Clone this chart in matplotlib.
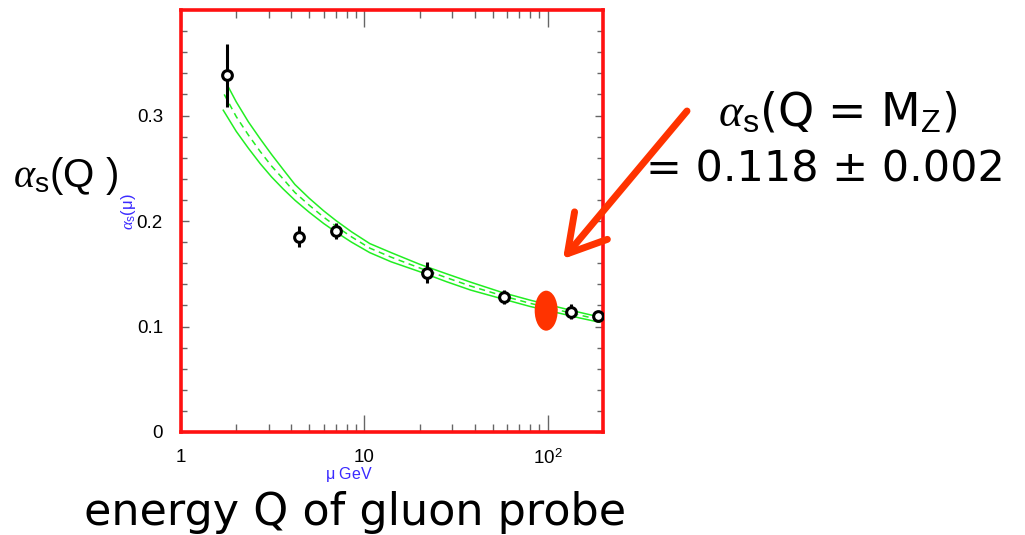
import matplotlib
matplotlib.use("Agg")
from matplotlib import pyplot as plt
from matplotlib.patches import Ellipse
from matplotlib import transforms
from matplotlib.ticker import FixedLocator, NullFormatter

plt.rcParams['mathtext.fontset'] = 'custom'
plt.rcParams['mathtext.rm'] = 'Liberation Sans'
plt.rcParams['mathtext.it'] = 'Liberation Serif:italic'

# measurements: scale mu (GeV), alpha_s, error
mu_pts = [1.78, 4.4, 7.0, 22.0, 58.0, 133.0, 189.0]
as_pts = [0.338, 0.185, 0.1905, 0.151, 0.128, 0.114, 0.110]
as_err = [0.030, 0.010, 0.008, 0.010, 0.007, 0.007, 0.003]

# running coupling band
mu_hi = [1.8, 2.0, 2.33, 2.7, 3.12, 3.6, 4.18, 5.0, 6.0, 7.0, 8.5, 10.7, 14, 20, 28, 38, 57, 80, 110, 150, 192]
band_hi = [0.328, 0.313, 0.294, 0.278, 0.263, 0.249, 0.2346, 0.2216, 0.2096, 0.2004, 0.1898, 0.1786,
           0.170, 0.159, 0.150, 0.142, 0.132, 0.125, 0.119, 0.1133, 0.109]
mu_lo = [1.70, 2.0, 2.33, 2.7, 3.12, 3.6, 4.18, 5.0, 6.0, 7.0, 8.5, 10.7, 14, 20, 28, 38, 57, 80, 110, 150, 192]
band_lo = [0.305, 0.285, 0.269, 0.2545, 0.2417, 0.2305, 0.2197, 0.2083, 0.1976, 0.1895, 0.180, 0.170,
           0.1613, 0.152, 0.1425, 0.1345, 0.126, 0.119, 0.1135, 0.108, 0.104]
mu_mid = [1.72, 2.0, 2.33, 2.7, 3.12, 3.6, 4.18, 5.0, 6.0, 7.0, 8.5, 10.7, 14, 20, 28, 38, 57, 80, 110, 150, 192]
band_mid = [0.320, 0.299, 0.2815, 0.266, 0.252, 0.240, 0.227, 0.215, 0.2036, 0.195, 0.185, 0.1743,
            0.1657, 0.1555, 0.1463, 0.1383, 0.129, 0.122, 0.1163, 0.1107, 0.1065]

# alpha_s blob at the Z mass (position as drawn)
mz = 98.0
as_mz = 0.115

green = '#22ee22'
red = '#ff3300'
frame_red = '#ff1111'
blue = '#3a2aff'

fig = plt.figure(figsize=(10.25, 5.35), dpi=100)
ax = fig.add_axes([181 / 1025, 103 / 535, 422 / 1025, 422 / 535])

ax.plot(mu_hi, band_hi, color=green, lw=1.1)
ax.plot(mu_lo, band_lo, color=green, lw=1.1)
ax.plot(mu_mid, band_mid, color=green, lw=1.1, ls=(0, (4, 3)))

ax.errorbar(mu_pts, as_pts, yerr=as_err, fmt='o', ms=7, mfc='white', mec='black',
            mew=2.2, ecolor='black', elinewidth=2.2, capsize=0, zorder=5)

# Z mass blob drawn in pixel size at the data position
off = transforms.ScaledTranslation(mz, as_mz, ax.transData)
ax.add_patch(Ellipse((0, 0), 23 / 100, 40 / 100, color=red, lw=0,
                     transform=fig.dpi_scale_trans + off, zorder=6))

ax.set_xscale('log')
ax.set_xlim(1, 200)
ax.set_ylim(0, 0.4)
ax.xaxis.set_major_locator(FixedLocator([1, 10, 100]))
ax.xaxis.set_minor_locator(FixedLocator([2, 3, 4, 5, 6, 7, 8, 9, 20, 30, 40, 50, 60, 70, 80, 90]))
ax.xaxis.set_minor_formatter(NullFormatter())
ax.set_xticklabels(['1', '10', '10$^2$'])
ax.yaxis.set_major_locator(FixedLocator([0, 0.1, 0.2, 0.3]))
ax.yaxis.set_minor_locator(FixedLocator([0.02, 0.04, 0.06, 0.08, 0.12, 0.14, 0.16, 0.18,
                                         0.22, 0.24, 0.26, 0.28, 0.32, 0.34, 0.36, 0.38]))
ax.set_yticklabels(['0', '0.1', '0.2', '0.3'])

ax.tick_params(axis='x', which='major', direction='in', top=True, length=12, width=1,
               color='#666666', pad=12, labelsize=13.5)
ax.tick_params(axis='x', which='minor', direction='in', top=True, length=6, width=1, color='#666666')
ax.tick_params(axis='y', which='major', direction='in', right=True, length=6, width=1,
               color='#666666', pad=13, labelsize=13.5)
ax.tick_params(axis='y', which='minor', direction='in', right=True, length=4, width=1, color='#666666')
for lab in ax.get_xticklabels() + ax.get_yticklabels():
    lab.set_fontfamily('Liberation Sans')

for sp in ax.spines.values():
    sp.set_color(frame_red)
    sp.set_linewidth(2.6)

# small blue axis labels of the original plot
fig.text(129 / 1025, 1 - 212 / 535, r'$\alpha_\mathrm{s}(\mathrm{\mu})$', color=blue, fontsize=12,
         rotation=90, ha='center', va='center')
fig.text(349 / 1025, 1 - 474 / 535, r'$\mathrm{\mu}$ GeV', color=blue, fontsize=11.5,
         family='Liberation Sans', ha='center', va='center')

# slide annotations
fig.text(13 / 1025, 1 - 176 / 535, r'$\alpha_\mathrm{s}$(Q )', fontsize=29,
         family='Liberation Sans', ha='left', va='center')
fig.text(957 / 1025, 1 - 113 / 535, r'$\alpha_\mathrm{s}$(Q = M$_\mathrm{Z}$)', fontsize=33,
         family='DejaVu Sans', ha='right', va='center')
fig.text(1005 / 1025, 1 - 170 / 535, '= 0.118 ± 0.002', fontsize=31,
         family='DejaVu Sans', ha='right', va='center')
fig.text(355 / 1025, 1 - 512 / 535, 'energy Q of gluon probe', fontsize=32,
         family='DejaVu Sans', ha='center', va='center')

ax.annotate('', xy=(563, 535 - 259), xycoords='figure pixels',
            xytext=(687, 535 - 111), textcoords='figure pixels',
            arrowprops=dict(arrowstyle='->,head_length=1.2,head_width=0.7', lw=5,
                            color=red, mutation_scale=22, shrinkA=0, shrinkB=0))

fig.savefig('out.png', dpi=100)
